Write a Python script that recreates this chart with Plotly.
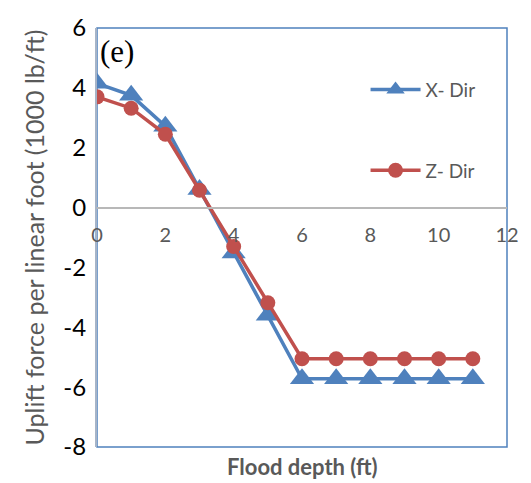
import plotly.graph_objects as go

depth = [0, 1, 2, 3, 4, 5, 6, 7, 8, 9, 10, 11]
x_dir = [4.15, 3.75, 2.72, 0.6, -1.52, -3.6, -5.72, -5.72, -5.72, -5.72, -5.72, -5.72]
z_dir = [3.7, 3.32, 2.45, 0.58, -1.3, -3.18, -5.05, -5.05, -5.05, -5.05, -5.05, -5.05]
y_tick_vals = [-8, -6, -4, -2, 0, 2, 4, 6]
y_tick_text = ["-8", "-6", "-4", "-2", "0", "2", "4", "6"]

blue = "#4F81BD"
red = "#C0504D"

fig = go.Figure()
fig.add_trace(go.Scatter(
    x=depth, y=x_dir, name="X- Dir", mode="lines+markers",
    line=dict(color=blue, width=3.5),
    marker=dict(symbol="triangle-up", size=21, color=blue),
    legendgroup="a",
))
fig.add_trace(go.Scatter(
    x=depth, y=z_dir, name="Z- Dir", mode="lines+markers",
    line=dict(color=red, width=3.5),
    marker=dict(symbol="circle", size=15, color=red),
    legendgroup="b",
))

ymin, ymax = -8, 6
zero_pos = (0 - ymin) / (ymax - ymin)

fig.update_layout(
    width=531, height=483,
    margin=dict(l=97, r=14, t=20, b=36),
    paper_bgcolor="white", plot_bgcolor="white",
    font=dict(family="Lato, Open Sans, sans-serif", color="#595959"),
    showlegend=True,
    legend=dict(x=0.655, y=0.898, xanchor="left", yanchor="top",
                bgcolor="rgba(0,0,0,0)", font=dict(size=19, color="#595959"),
                tracegroupgap=53, itemwidth=50),
    xaxis=dict(range=[0, 12], dtick=2, showgrid=False, zeroline=False,
               anchor="free", position=zero_pos, showline=True,
               linecolor="#B8B8B8", linewidth=1.5, ticks="",
               ticklabelstandoff=10,
               tickfont=dict(size=20, color="#595959")),
    yaxis=dict(range=[ymin, ymax], tickmode="array", tickvals=y_tick_vals,
               ticktext=y_tick_text, showgrid=False, zeroline=False,
               showline=True, linecolor="#A6B4C8", linewidth=2, ticks="",
               ticklabelstandoff=4,
               tickfont=dict(size=24, color="#000000"),
               title=dict(text="Uplift force per linear foot (1000 lb/ft)",
                          font=dict(size=25, color="#595959"), standoff=12)),
    shapes=[dict(type="rect", xref="paper", yref="paper", x0=0, x1=1, y0=0, y1=1,
                 line=dict(color=blue, width=1.5), layer="below")],
    annotations=[
        dict(text="(e)", xref="paper", yref="paper", x=0.003, y=0.99,
             xanchor="left", yanchor="top", showarrow=False,
             font=dict(family="Liberation Serif, Times New Roman, serif", size=31, color="black")),
        dict(text="<b>Flood depth (ft)</b>", xref="paper", yref="paper", x=0.5, y=-0.01,
             xanchor="center", yanchor="top", showarrow=False,
             font=dict(size=22, color="#595959")),
    ],
)

fig.write_html("out.html")
